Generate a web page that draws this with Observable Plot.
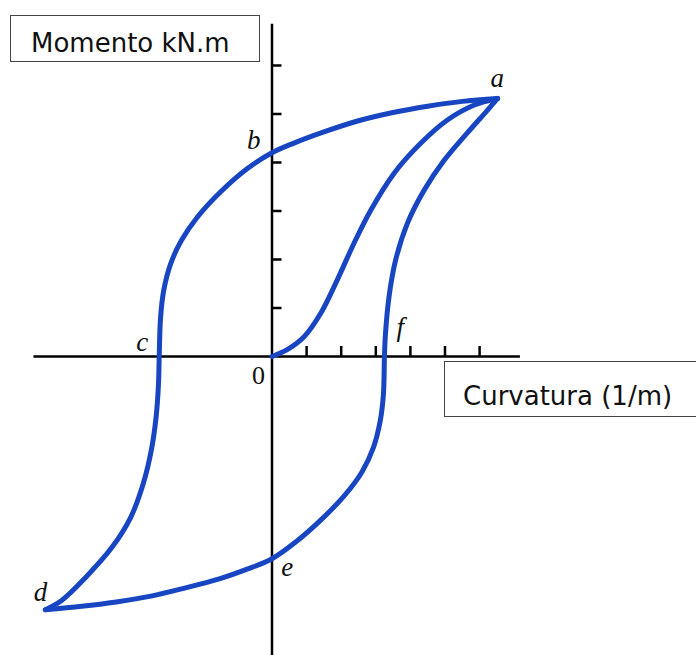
<!DOCTYPE html>
<html>
<head>
<meta charset="utf-8">
<script src="https://cdn.jsdelivr.net/npm/d3@7"></script>
<script src="https://cdn.jsdelivr.net/npm/@observablehq/plot@0.6"></script>
<style>
  html, body { margin: 0; padding: 0; background: #fff; }
  #wrap { position: relative; width: 696px; height: 655px; overflow: hidden; }
  .box { position: absolute; border: 1.5px solid #444; background: #fff; box-sizing: border-box; }
  .lbl { position: absolute; font-family: "DejaVu Sans", Verdana, sans-serif; font-size: 26px; line-height: 26px; color: #111; white-space: nowrap; }
</style>
</head>
<body>
<div id="wrap"></div>
<script>
// ---- data (curvature, moment) ----
const initialCurve = [
  [0, 0], [0.44, 0.14], [0.92, 0.40], [1.40, 0.88], [1.88, 1.57], [2.36, 2.32],
  [2.85, 3.01], [3.52, 3.77], [4.29, 4.39], [5.06, 4.87], [5.83, 5.18], [6.52, 5.32]
];
// a -> b -> c -> d
const upperBranch = [
  [6.52, 5.32], [5.50, 5.26], [4.50, 5.16], [3.50, 5.03], [2.50, 4.86], [1.50, 4.63],
  [0.60, 4.39], [0, 4.20], [-0.72, 3.87], [-1.49, 3.39], [-2.16, 2.87], [-2.62, 2.39],
  [-2.93, 1.91], [-3.13, 1.36], [-3.22, 0.81], [-3.26, 0], [-3.28, -0.56], [-3.35, -1.25],
  [-3.49, -1.94], [-3.72, -2.62], [-4.08, -3.31], [-4.62, -3.93], [-5.38, -4.55],
  [-6.08, -5.03], [-6.55, -5.22]
];
// d -> e -> f -> a
const lowerBranch = [
  [-6.55, -5.22], [-5.50, -5.15], [-4.50, -5.06], [-3.50, -4.94], [-2.50, -4.77],
  [-1.50, -4.58], [-0.70, -4.38], [0, -4.17], [0.73, -3.80], [1.40, -3.38], [2.08, -2.88],
  [2.60, -2.38], [2.93, -1.88], [3.13, -1.32], [3.22, -0.78], [3.25, 0], [3.28, 0.47],
  [3.38, 1.22], [3.57, 1.98], [3.91, 2.74], [4.39, 3.42], [4.97, 4.04], [5.62, 4.59],
  [6.18, 5.04], [6.52, 5.32]
];
const xTicks = [1, 2, 3, 4, 5, 6];
const yTicks = [1, 2, 3, 4, 5, 6];
const pointLabels = [
  {name: "a", x: 6.51, y: 5.73},
  {name: "b", x: -0.53, y: 4.45},
  {name: "c", x: -3.75, y: 0.29},
  {name: "d", x: -6.69, y: -4.86},
  {name: "e", x: 0.44, y: -4.34},
  {name: "f", x: 3.71, y: 0.60}
];
const originLabel = [{name: "0", x: -0.39, y: -0.40}];
const xAxisExtent = [-6.88, 7.18];
const yAxisExtent = [-6.2, 6.85];
const yTitle = "Momento kN.m";
const xTitle = "Curvatura (1/m)";

// ---- chart ----
const W = 696, H = 655;
const xDomain = [-7.847, 12.269];
const yDomain = [-6.165, 7.340];
const pxPerY = H / (yDomain[1] - yDomain[0]);
const pxPerX = W / (xDomain[1] - xDomain[0]);
const tickLen = 10;
const blue = "#1845c2";
const lineOpts = {x: d => d[0], y: d => d[1], curve: "catmull-rom", stroke: blue, strokeWidth: 5, strokeLinejoin: "miter", strokeLinecap: "round"};

const chart = Plot.plot({
  width: W, height: H,
  marginTop: 0, marginRight: 0, marginBottom: 0, marginLeft: 0,
  x: {domain: xDomain, axis: null},
  y: {domain: yDomain, axis: null},
  style: {background: "transparent", overflow: "visible"},
  marks: [
    Plot.ruleY([0], {x1: xAxisExtent[0], x2: xAxisExtent[1], stroke: "#000", strokeWidth: 2.5}),
    Plot.ruleX([0], {y1: yAxisExtent[0], y2: yAxisExtent[1], stroke: "#000", strokeWidth: 2.5}),
    Plot.ruleX(xTicks, {x: d => d, y1: 0, y2: tickLen / pxPerY, stroke: "#000", strokeWidth: 2.5}),
    Plot.ruleY(yTicks, {y: d => d, x1: 0, x2: tickLen / pxPerX, stroke: "#000", strokeWidth: 2.5}),
    Plot.line(initialCurve, lineOpts),
    Plot.line(upperBranch, lineOpts),
    Plot.line(lowerBranch, lineOpts),
    Plot.text(pointLabels, {x: "x", y: "y", text: "name", fontFamily: "Liberation Serif, Times New Roman, serif", fontStyle: "italic", fontSize: 27, fill: "#111", textAnchor: "middle", lineAnchor: "middle"}),
    Plot.text(originLabel, {x: "x", y: "y", text: "name", fontFamily: "Liberation Serif, Times New Roman, serif", fontSize: 26, fill: "#111", textAnchor: "middle", lineAnchor: "middle"})
  ]
});

const wrap = document.getElementById("wrap");
wrap.appendChild(chart);

function addBox(left, top, width, height, noRight) {
  const b = document.createElement("div");
  b.className = "box";
  Object.assign(b.style, {left: left + "px", top: top + "px", width: width + "px", height: height + "px"});
  if (noRight) b.style.borderRight = "none";
  wrap.appendChild(b);
}
function addLabel(text, left, top) {
  const t = document.createElement("div");
  t.className = "lbl";
  t.textContent = text;
  Object.assign(t.style, {left: left + "px", top: top + "px"});
  wrap.appendChild(t);
}
addBox(10, 15, 250, 47, false);
addLabel(yTitle, 31, 29.5);
addBox(444, 361, 262, 56, true);
addLabel(xTitle, 463, 383);
</script>
</body>
</html>
